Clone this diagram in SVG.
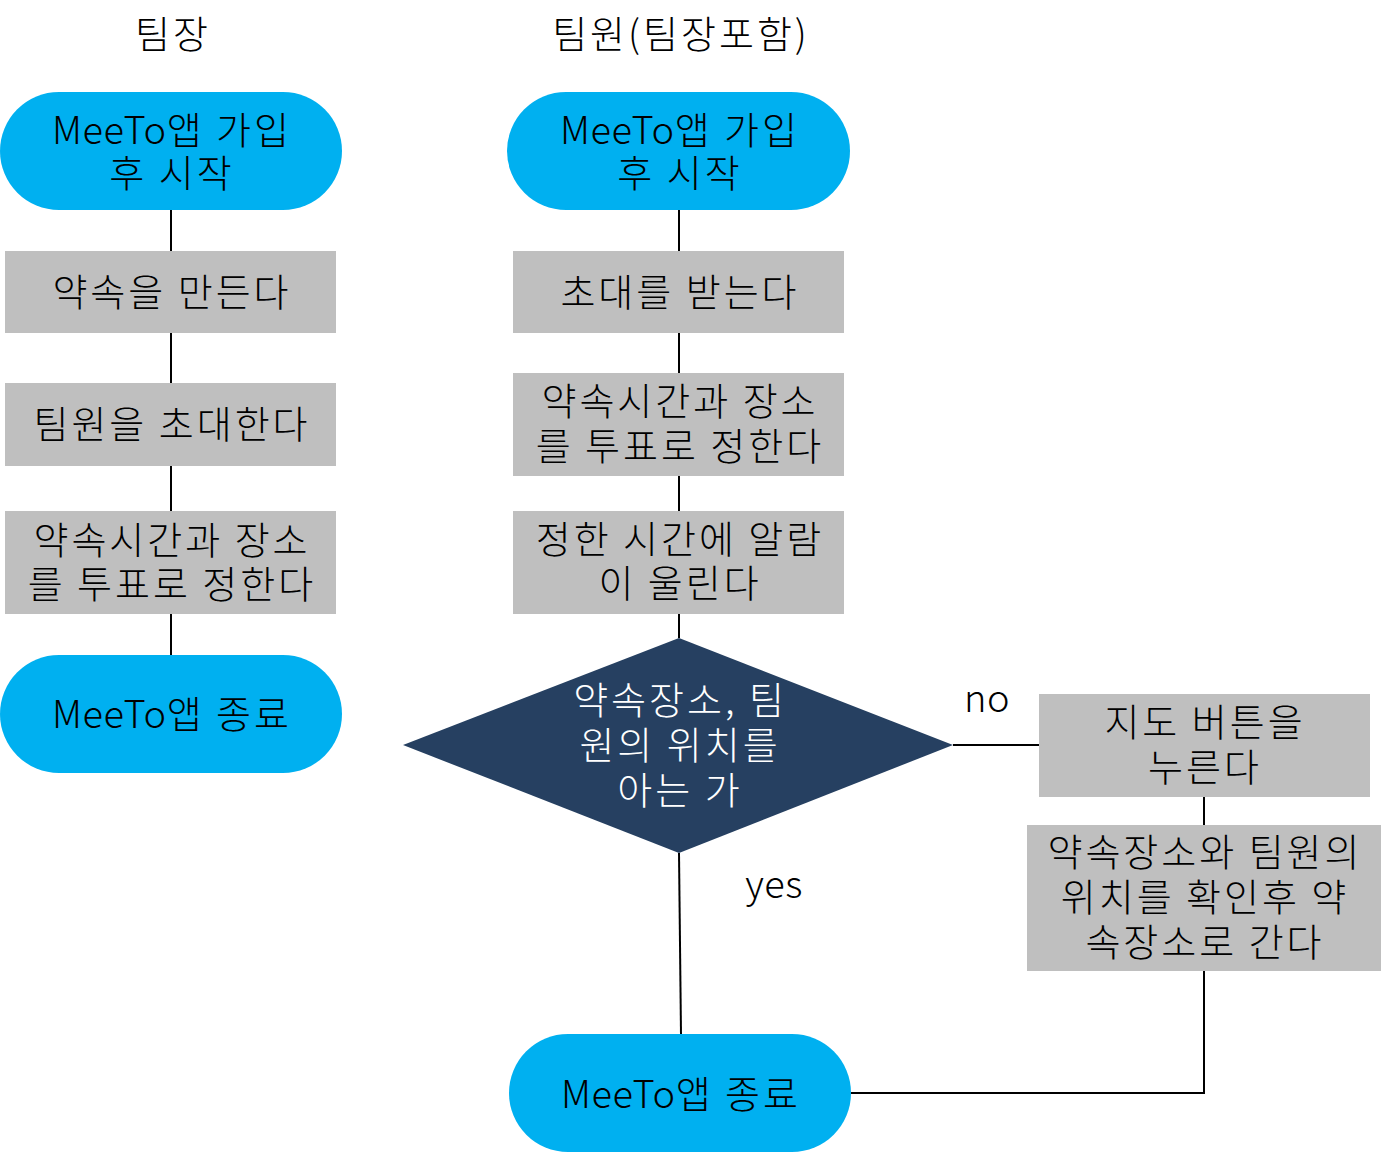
<svg xmlns="http://www.w3.org/2000/svg" width="1385" height="1153" viewBox="0 0 1385 1153">
<style>
text{font-family:"Noto Sans CJK KR","Noto Sans",sans-serif;font-size:38px;font-weight:300;text-anchor:middle;fill:#000;letter-spacing:3px}
.lat{letter-spacing:0.5px}
.term{fill:#00B0F0}
.proc{fill:#BFBFBF}
.dec{fill:#264061}
.w{fill:#fff}
#connectors path{fill:none;stroke:#000;stroke-width:2}
</style>
<rect width="1385" height="1153" fill="#fff"/>
<g id="titles">
<text x="173" y="48">팀장</text>
<text x="681" y="48">팀원(팀장포함)</text>
</g>
<g id="connectors">
<path d="M171 210V251M171 333V383M171 466V511M171 614V655"/>
<path d="M679 210V251M679 333V373M679 476V511M679 614V638"/>
<path d="M679 853L681 1034"/>
<path d="M953 745H1039"/>
<path d="M1204 797V825"/>
<path d="M1204 971V1093H851"/>
</g>
<g id="L1"><rect class="term" x="0" y="92" width="342" height="118" rx="59"/><text x="172" y="144"><tspan class="lat">MeeTo</tspan>앱 가입</text><text x="172" y="187">후 시작</text></g>
<g id="L2"><rect class="proc" x="5" y="251" width="331" height="82"/><text x="172" y="306">약속을 만든다</text></g>
<g id="L3"><rect class="proc" x="5" y="383" width="331" height="83"/><text x="172" y="438">팀원을 초대한다</text></g>
<g id="L4"><rect class="proc" x="5" y="511" width="331" height="103"/><text x="172" y="554">약속시간과 장소</text><text x="172" y="598">를 투표로 정한다</text></g>
<g id="L5"><rect class="term" x="0" y="655" width="342" height="118" rx="59"/><text x="172" y="728"><tspan class="lat">MeeTo</tspan>앱 종료</text></g>
<g id="M1"><rect class="term" x="507" y="92" width="343" height="118" rx="59"/><text x="680" y="144"><tspan class="lat">MeeTo</tspan>앱 가입</text><text x="680" y="187">후 시작</text></g>
<g id="M2"><rect class="proc" x="513" y="251" width="331" height="82"/><text x="680" y="306">초대를 받는다</text></g>
<g id="M3"><rect class="proc" x="513" y="373" width="331" height="103"/><text x="680" y="415">약속시간과 장소</text><text x="680" y="460">를 투표로 정한다</text></g>
<g id="M4"><rect class="proc" x="513" y="511" width="331" height="103"/><text x="680" y="553">정한 시간에 알람</text><text x="680" y="597">이 울린다</text></g>
<g id="D1"><polygon class="dec" points="679,638 953,745 679,853 403,745"/><text class="w" x="680" y="714">약속장소, 팀</text><text class="w" x="680" y="759">원의 위치를</text><text class="w" x="680" y="804">아는 가</text></g>
<g id="M5"><rect class="term" x="509" y="1034" width="342" height="118" rx="59"/><text x="681" y="1108"><tspan class="lat">MeeTo</tspan>앱 종료</text></g>
<g id="R1"><rect class="proc" x="1039" y="694" width="331" height="103"/><text x="1205" y="736">지도 버튼을</text><text x="1205" y="781">누른다</text></g>
<g id="R2"><rect class="proc" x="1027" y="825" width="354" height="146"/><text x="1205" y="866">약속장소와 팀원의</text><text x="1205" y="911">위치를 확인후 약</text><text x="1205" y="956">속장소로 간다</text></g>
<g id="labels"><text class="lat" x="987" y="712">no</text><text class="lat" x="774" y="898">yes</text></g>
</svg>
